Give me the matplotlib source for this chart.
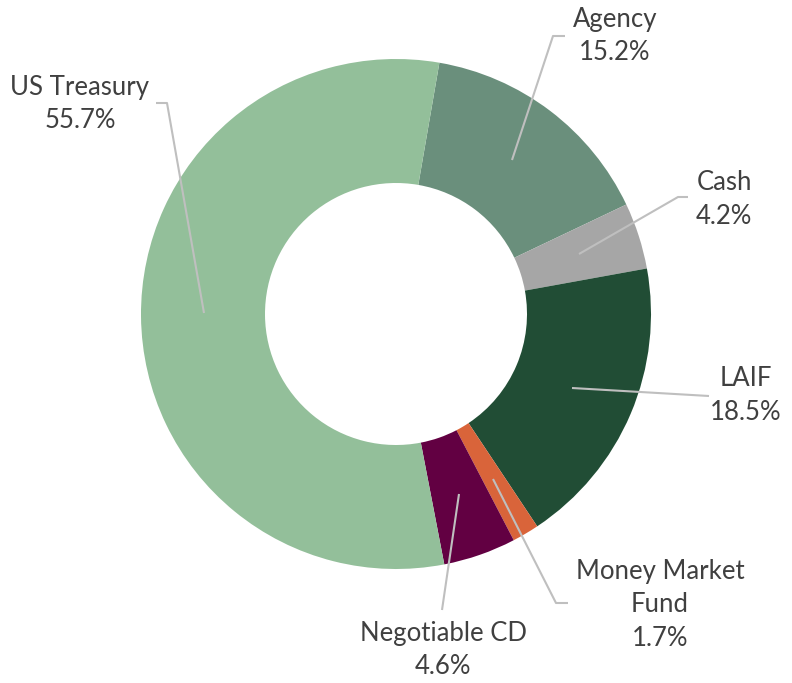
import matplotlib
matplotlib.use("Agg")
import matplotlib.pyplot as plt

categories = ["Agency", "Cash", "LAIF", "Money Market\nFund", "Negotiable CD", "US Treasury"]
values = [15.2, 4.2, 18.5, 1.7, 4.6, 55.7]
colors = ["#6A8F7C", "#A6A6A6", "#214D35", "#D9643A", "#620042", "#93BF9A"]

W, H = 792, 683
fig = plt.figure(figsize=(W / 100, H / 100), dpi=100)
ax = fig.add_axes([0, 0, 1, 1])

cx, cy = 396, H - 314
R, r_in = 255, 131
ax.pie(values, colors=colors, startangle=80.2, counterclock=False,
       radius=R, center=(cx, cy),
       wedgeprops=dict(width=R - r_in, linewidth=0))

# label positions (pixel coords, y from top) and leader lines
label_xy = [(615, 36), (724, 199), (746, 396), (660, 605), (443, 650), (80, 104)]
leaders = [
    [(512, 160), (553, 36), (565, 36)],
    [(579, 254), (678, 197), (688, 197)],
    [(572, 388), (709, 396)],
    [(493, 479), (556, 603), (568, 603)],
    [(459, 494), (442, 610)],
    [(204, 313), (167, 103), (156, 103)],
]

for cat, v, (lx, ly), pts in zip(categories, values, label_xy, leaders):
    xs = [p[0] for p in pts]
    ys = [H - p[1] for p in pts]
    ax.plot(xs, ys, color="#BFBFBF", lw=1.5, solid_capstyle="butt")
    ax.text(lx, H - ly, f"{cat}\n{v:.1f}%", ha="center", va="center",
            fontsize=18.5, family="Lato", color="#404040", linespacing=1.45)

ax.set_xlim(0, W)
ax.set_ylim(0, H)
ax.set_aspect("equal")
ax.axis("off")
fig.savefig("out.png", dpi=100, facecolor="white")
